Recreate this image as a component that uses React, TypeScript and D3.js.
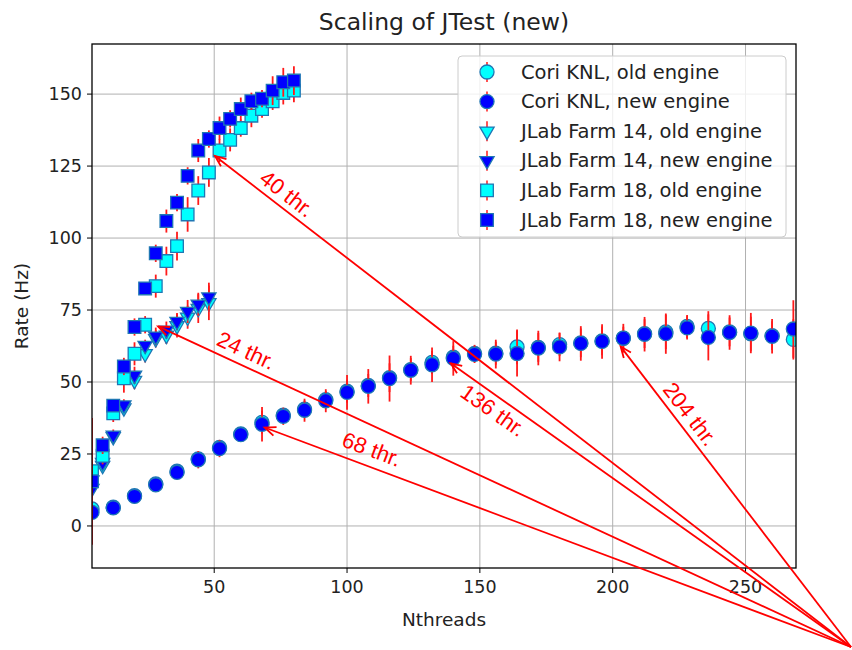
import React from "react";
import * as d3 from "d3";

// thread counts
const coriX = [4, 12, 20, 28, 36, 44, 52, 60, 68, 76, 84, 92, 100, 108, 116, 124, 132, 140, 148, 156, 164, 172, 180, 188, 196, 204, 212, 220, 228, 236, 244, 252, 260, 268];
const farm14X = [4, 8, 12, 16, 20, 24, 28, 32, 36, 40, 44, 48];
const farm18X = [4, 8, 12, 16, 20, 24, 28, 32, 36, 40, 44, 48, 52, 56, 60, 64, 68, 72, 76, 80];

// rates (Hz) and errors
const coriOld = [5.9, 6.5, 10.5, 14.6, 19, 23.3, 27.3, 32, 36, 38.5, 40.6, 43.9, 46.8, 48.8, 51.5, 54.3, 56.8, 58.6, 59.9, 60, 62.2, 62, 63, 63.6, 64.3, 65.2, 66.8, 67.4, 69.3, 68.6, 67.4, 66.7, 66.1, 64.8];
const coriOldErr = [2, 1, 1, 1.5, 2, 2, 2, 2, 4, 2, 3, 3, 4, 4, 5, 4, 4, 4, 3, 4, 6, 5, 4, 5, 5, 4, 5, 6, 4, 6, 5, 6, 5, 7];
const coriNew = [4.7, 6.3, 10.3, 14.3, 18.6, 23, 26.9, 31.7, 35.3, 38.1, 40.2, 43.5, 46.4, 48.5, 51.2, 54.1, 56, 58.2, 59.6, 59.7, 59.9, 61.8, 62.2, 63.4, 64.1, 65.2, 66.6, 66.8, 68.8, 65.5, 67.2, 67, 65.9, 68.4];
const coriNewErr = [2, 1.5, 1.5, 2, 2.5, 3, 3, 2.5, 6, 3, 4, 4, 6, 6, 8, 5, 6, 6, 3, 5, 8, 6, 5, 6, 6, 5, 6, 7, 4, 8, 6, 7, 6, 10];

const farm14Old = [16, 21, 31, 41, 50.5, 59.8, 65, 66.2, 69.5, 72.5, 75.5, 77.5];
const farm14OldErr = [3, 2, 2, 2, 3, 3, 3, 3, 4, 4, 5, 6];
const farm14New = [13, 22, 31.5, 42, 52.3, 62.7, 65.9, 68, 71, 74.5, 77, 79.5];
const farm14NewErr = [3, 2, 2, 2, 3, 2, 3, 3, 3, 4, 4, 5];

const farm18Old = [19, 24.4, 39.1, 51.3, 59.8, 69.9, 83.3, 92, 97.2, 108.2, 116.5, 122.8, 130.4, 134.1, 138.2, 142.5, 144.8, 147.5, 150.4, 151.2];
const farm18OldErr = [3, 3, 3, 5, 4, 3, 4, 5, 5, 6, 5, 5, 4, 4, 3, 4, 3, 3, 4, 4];
const farm18New = [15.5, 28, 41.8, 55.4, 69.1, 82.5, 94.7, 105.9, 112.3, 121.6, 130.4, 134.4, 138.2, 141.4, 144.8, 147.5, 148.4, 151.2, 154.1, 154.7];
const farm18NewErr = [22, 3, 2, 3, 3, 2, 3, 4, 3, 3, 4, 3, 4, 3, 4, 3, 3, 5, 5, 5];

const xTicks = [50, 100, 150, 200, 250];
const yTicks = [0, 25, 50, 75, 100, 125, 150];

// arrow tips in data units, label placed along the arrow (px from tip) and off to the side
const notes = [
  { label: "40 thr.", x: 50.3, y: 128.5, along: 80, off: 14 },
  { label: "24 thr.", x: 28.9, y: 69.3, along: 90, off: 15 },
  { label: "68 thr.", x: 69.0, y: 34.2, along: 108, off: 17 },
  { label: "136 thr.", x: 139, y: 56.5, along: 62, off: -14 },
  { label: "204 thr.", x: 203, y: 62.3, along: 96, off: 14 },
];

const series = [
  { name: "Cori KNL, old engine", xs: coriX, ys: coriOld, err: coriOldErr, shape: "circle", fill: "#00ffff" },
  { name: "Cori KNL, new engine", xs: coriX, ys: coriNew, err: coriNewErr, shape: "circle", fill: "#0000ff" },
  { name: "JLab Farm 14, old engine", xs: farm14X, ys: farm14Old, err: farm14OldErr, shape: "tri", fill: "#00ffff" },
  { name: "JLab Farm 14, new engine", xs: farm14X, ys: farm14New, err: farm14NewErr, shape: "tri", fill: "#0000ff" },
  { name: "JLab Farm 18, old engine", xs: farm18X, ys: farm18Old, err: farm18OldErr, shape: "square", fill: "#00ffff" },
  { name: "JLab Farm 18, new engine", xs: farm18X, ys: farm18New, err: farm18NewErr, shape: "square", fill: "#0000ff" },
];

const W = 852;
const H = 650;
const margin = { left: 92, right: 56, top: 44, bottom: 82 };
const font = "DejaVu Sans, sans-serif";
const edge = "#1f77b4";
const errColor = "#ff1a1a";

const symbolPath = (shape: string) => {
  if (shape === "circle") return d3.symbol(d3.symbolCircle, 155)()!;
  if (shape === "square") return d3.symbol(d3.symbolSquare, 160)()!;
  return d3.symbol(d3.symbolTriangle, 88)()!;
};

const Marker = ({ shape, fill, x, y }: any) => (
  <path
    d={symbolPath(shape)}
    transform={`translate(${x},${y})${shape === "tri" ? " rotate(180)" : ""}`}
    fill={fill}
    stroke={edge}
    strokeWidth={1.3}
  />
);

export default function App() {
  const x = d3.scaleLinear().domain([4, 269]).range([margin.left, W - margin.right]);
  const y = d3.scaleLinear().domain([-14.6, 167.4]).range([H - margin.bottom, margin.top]);
  const [x0, x1] = x.range();
  const [y0, y1] = y.range();
  const origin = { x: 851, y: 647 };

  return (
    <svg width={W} height={H} style={{ position: "absolute", left: 0, top: 0, background: "#fff" }} fontFamily={font}>
      <defs>
        <clipPath id="plot">
          <rect x={x0} y={y1} width={x1 - x0} height={y0 - y1} />
        </clipPath>
      </defs>

      {/* grid */}
      <g stroke="#b0b0b0" strokeWidth={1}>
        {xTicks.map((t) => (
          <line key={"gx" + t} x1={x(t)} x2={x(t)} y1={y1} y2={y0} />
        ))}
        {yTicks.map((t) => (
          <line key={"gy" + t} x1={x0} x2={x1} y1={y(t)} y2={y(t)} />
        ))}
      </g>

      {/* data */}
      <g clipPath="url(#plot)">
        {series.map((s) => (
          <g key={s.name}>
            {s.xs.map((xv, i) => (
              <line key={"e" + i} x1={x(xv)} x2={x(xv)} y1={y(s.ys[i] - s.err[i])} y2={y(s.ys[i] + s.err[i])} stroke={errColor} strokeWidth={1.8} />
            ))}
            {s.xs.map((xv, i) => (
              <Marker key={"m" + i} shape={s.shape} fill={s.fill} x={x(xv)} y={y(s.ys[i])} />
            ))}
          </g>
        ))}
      </g>

      {/* axes frame */}
      <rect x={x0} y={y1} width={x1 - x0} height={y0 - y1} fill="none" stroke="#000" strokeWidth={1.3} />
      {xTicks.map((t) => (
        <g key={"tx" + t}>
          <line x1={x(t)} x2={x(t)} y1={y0} y2={y0 + 5} stroke="#000" />
          <text x={x(t)} y={y0 + 25} textAnchor="middle" fontSize={17.5} fill="#222">{t}</text>
        </g>
      ))}
      {yTicks.map((t) => (
        <g key={"ty" + t}>
          <line x1={x0 - 5} x2={x0} y1={y(t)} y2={y(t)} stroke="#000" />
          <text x={x0 - 10} y={y(t)} textAnchor="end" dominantBaseline="central" fontSize={17.5} fill="#222">{t}</text>
        </g>
      ))}
      <text x={(x0 + x1) / 2} y={H - 24} textAnchor="middle" fontSize={18.5} fill="#222">Nthreads</text>
      <text transform={`translate(21,${(y0 + y1) / 2}) rotate(-90)`} textAnchor="middle" dominantBaseline="central" fontSize={18.5} fill="#222">Rate (Hz)</text>
      <text x={(x0 + x1) / 2} y={30} textAnchor="middle" fontSize={23.5} fill="#222">Scaling of JTest (new)</text>

      {/* legend */}
      <g>
        <rect x={458} y={56} width={328} height={181} rx={4} fill="#fff" fillOpacity={0.8} stroke="#cccccc" />
        {series.map((s, i) => {
          const ly = 72 + i * 29.6;
          return (
            <g key={"l" + s.name}>
              <line x1={487} x2={487} y1={ly - 10} y2={ly + 10} stroke={errColor} strokeWidth={1.5} />
              <Marker shape={s.shape} fill={s.fill} x={487} y={ly} />
              <text x={521} y={ly} dominantBaseline="central" fontSize={19.5} fill="#222">{s.name}</text>
            </g>
          );
        })}
      </g>

      {/* annotations */}
      {notes.map((n) => {
        const tx = x(n.x);
        const ty = y(n.y);
        const dx = origin.x - tx;
        const dy = origin.y - ty;
        const len = Math.hypot(dx, dy);
        const ux = dx / len;
        const uy = dy / len;
        const ang = (Math.atan2(uy, ux) * 180) / Math.PI;
        const lx = tx + ux * n.along + uy * n.off;
        const ly = ty + uy * n.along - ux * n.off;
        const hl = 11;
        const hw = 4.5;
        const h1 = [tx + ux * hl - uy * hw, ty + uy * hl + ux * hw];
        const h2 = [tx + ux * hl + uy * hw, ty + uy * hl - ux * hw];
        return (
          <g key={n.label} stroke="#ff0000" strokeWidth={1.8} fill="none">
            <line x1={tx} y1={ty} x2={origin.x} y2={origin.y} />
            <polyline points={`${h1[0]},${h1[1]} ${tx},${ty} ${h2[0]},${h2[1]}`} />
            <text
              transform={`translate(${lx},${ly}) rotate(${ang})`}
              textAnchor="middle"
              dominantBaseline="central"
              fontSize={22}
              fontFamily="Liberation Sans, Arial, sans-serif"
              fill="#ff0000"
              stroke="none"
            >
              {n.label}
            </text>
          </g>
        );
      })}
    </svg>
  );
}
